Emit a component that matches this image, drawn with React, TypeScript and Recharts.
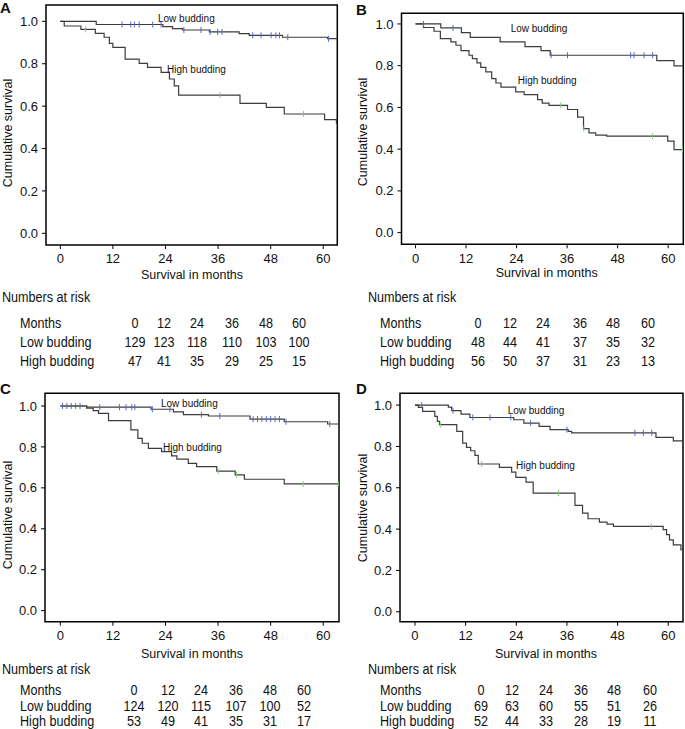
import React from "react";
import {
  ComposedChart,
  Line,
  Scatter,
  XAxis,
  YAxis,
  ReferenceArea,
} from "recharts";

// Kaplan-Meier steps: [month, cumulative survival]
const aLow: [number, number][] = [
  [0, 1], [8.2, 0.985], [23.4, 0.975], [25.6, 0.966], [27.9, 0.959], [34, 0.95],
  [40.8, 0.942], [43.1, 0.934], [50.7, 0.925], [61, 0.918], [63.2, 0.918],
];
const aHigh: [number, number][] = [
  [0, 1], [0.9, 0.978], [4.7, 0.962], [8, 0.943], [10, 0.925], [11.2, 0.896],
  [12, 0.877], [14.8, 0.822], [18, 0.802], [19.9, 0.783], [23, 0.759],
  [24.9, 0.728], [26, 0.696], [27, 0.652], [41, 0.613], [47, 0.594],
  [51.1, 0.563], [60.3, 0.536], [63, 0.52], [63.2, 0.52],
];
const aLowCens = [14.1, 16.1, 16.9, 18, 21.1, 23, 28.2, 32.1, 34.2, 35.9, 36.9, 43.9, 45.8, 48.1, 49.2, 50, 51.9, 61.2];
const aHighCens = [5.8, 36.4, 55.5];

const bLow: [number, number][] = [
  [0, 1], [6, 0.981], [10.9, 0.958], [13, 0.936], [20.1, 0.914], [26, 0.891],
  [29.8, 0.872], [32, 0.85], [57.3, 0.824], [61.4, 0.799], [63.6, 0.799],
];
const bHigh: [number, number][] = [
  [0, 1], [1.9, 0.983], [4.4, 0.965], [5.9, 0.93], [8.4, 0.914], [9.6, 0.898],
  [10.8, 0.872], [12.7, 0.85], [13.5, 0.834], [14.6, 0.813], [15.5, 0.792],
  [16.7, 0.77], [18.1, 0.738], [19.1, 0.717], [20.3, 0.697], [23.8, 0.674],
  [25.8, 0.661], [29, 0.637], [30.1, 0.621], [31.7, 0.61], [36.1, 0.59],
  [38.5, 0.553], [39.9, 0.498], [41.2, 0.478], [42.8, 0.467], [45.4, 0.462],
  [59.9, 0.438], [61.4, 0.398], [63.6, 0.398],
];
const bLowCens = [1.9, 8.9, 32.2, 36.1, 51.1, 51.9, 54.3, 56.3];
const bHighCens = [34.5, 40, 56.3, 63.4];

const cLow: [number, number][] = [
  [0, 1], [6, 0.994], [20.7, 0.984], [25.8, 0.971], [28.1, 0.958], [33.8, 0.951],
  [43.3, 0.936], [51.1, 0.923], [61, 0.912], [63.6, 0.912],
];
const cHigh: [number, number][] = [
  [0, 1], [6, 0.989], [7.5, 0.977], [8.7, 0.964], [11, 0.928], [16.1, 0.883],
  [17.7, 0.842], [18.7, 0.818], [20.1, 0.793], [23.1, 0.777], [25.4, 0.756],
  [26.6, 0.74], [29.2, 0.72], [31.1, 0.704], [35.7, 0.682], [39.9, 0.663],
  [42, 0.642], [51.1, 0.619], [63.6, 0.619],
];
const cLowCens = [0.5, 1.5, 2.5, 3.5, 4.5, 9, 13.5, 15, 16.3, 17, 21, 25, 32.2, 36.4, 44, 45, 46, 47, 48, 49, 50, 51.5, 61.5];
const cHighCens = [36, 40.2, 55.4, 63.4];

const dLow: [number, number][] = [
  [0, 1], [7.9, 0.99], [8.7, 0.973], [10.9, 0.956], [13, 0.94], [23.4, 0.929],
  [25.8, 0.913], [29.4, 0.897], [32, 0.881], [36.3, 0.873], [37.1, 0.866],
  [57.1, 0.844], [61.2, 0.827], [63.5, 0.827],
];
const dHigh: [number, number][] = [
  [0, 1], [0.8, 0.989], [1.8, 0.97], [4.7, 0.945], [5.3, 0.921], [5.8, 0.905],
  [9.9, 0.873], [11.3, 0.816], [12.2, 0.795], [13.2, 0.779], [14.2, 0.757],
  [15, 0.715], [20, 0.699], [22.9, 0.676], [23.9, 0.65], [26.3, 0.627],
  [28, 0.574], [37.9, 0.515], [39.7, 0.477], [41, 0.45], [43.7, 0.434],
  [45.5, 0.424], [47, 0.413], [58.8, 0.397], [59.6, 0.373], [60.3, 0.348],
  [61.2, 0.324], [63, 0.3], [63.5, 0.3],
];
const dLowCens = [1.6, 9, 13.7, 17.8, 22.7, 27.4, 36, 52.1, 54.1, 56.1];
const dHighCens = [6, 15.8, 34, 56];

// numbers at risk
const months = [0, 12, 24, 36, 48, 60];
const aLowRisk = [129, 123, 118, 110, 103, 100];
const aHighRisk = [47, 41, 35, 29, 25, 15];
const bLowRisk = [48, 44, 41, 37, 35, 32];
const bHighRisk = [56, 50, 37, 31, 23, 13];
const cLowRisk = [124, 120, 115, 107, 100, 52];
const cHighRisk = [53, 49, 41, 35, 31, 17];
const dLowRisk = [69, 63, 60, 55, 51, 26];
const dHighRisk = [52, 44, 33, 28, 19, 11];

const yTicks = [0, 0.2, 0.4, 0.6, 0.8, 1.0];
const LINE = "#3c3c3c";
const FONT = "'Liberation Sans', Arial, Helvetica, sans-serif";
const YW = 40;
const XH = 36;

const levelAt = (steps: [number, number][], t: number) => {
  let s = steps[0][1];
  for (const [tt, ss] of steps) if (tt <= t) s = ss;
  return s;
};

const toPts = (steps: [number, number][]) => steps.map(([t, s]) => ({ t, s }));
const cens = (steps: [number, number][], times: number[]) =>
  times.map((t) => ({ t, s: levelAt(steps, t) }));

const tickMark = (color: string) => (props: any) => {
  const { cx, cy } = props;
  return <line x1={cx} x2={cx} y1={cy - 3} y2={cy + 3} stroke={color} strokeWidth={1} />;
};

const panels = [
  {
    letter: "A", left: 0, top: 0, w: 340, h: 285,
    plot: { l: 46, r: 337.3, t: 5, b: 245 }, xd: [-3.26, 63.2], yd: [-0.055, 1.077],
    low: aLow, high: aHigh, lowC: aLowCens, highC: aHighCens,
    letterPos: [0, 0], yTitle: [8, 133], xTitle: [192, 275],
    lowLab: [158, 19], highLab: [167, 70],
  },
  {
    letter: "B", left: 340, top: 0, w: 345, h: 285,
    plot: { l: 401.5, r: 683.3, t: 13.3, b: 244.3 }, xd: [-3.33, 63.6], yd: [-0.056, 1.051],
    low: bLow, high: bHigh, lowC: bLowCens, highC: bHighCens,
    letterPos: [356, 2], yTitle: [362.7, 132], xTitle: [546.7, 273],
    lowLab: [510.7, 29], highLab: [517.7, 81],
  },
  {
    letter: "C", left: 0, top: 375, w: 340, h: 285,
    plot: { l: 45, r: 339, t: 393.3, b: 621.7 }, xd: [-3.5, 63.6], yd: [-0.054, 1.062],
    low: cLow, high: cHigh, lowC: cLowCens, highC: cHighCens,
    letterPos: [0, 381], yTitle: [8.3, 515], xTitle: [192, 654],
    lowLab: [161, 404.3], highLab: [163, 448],
  },
  {
    letter: "D", left: 340, top: 375, w: 345, h: 285,
    plot: { l: 400, r: 683, t: 393.3, b: 621.7 }, xd: [-3.55, 63.5], yd: [-0.048, 1.057],
    low: dLow, high: dHigh, lowC: dLowCens, highC: dHighCens,
    letterPos: [356, 381], yTitle: [362.7, 508], xTitle: [546, 654],
    lowLab: [507.7, 411], highLab: [516, 465.7],
  },
];

const tables = [
  { x0: 2, lab: 20, cols: [135, 164, 197, 232, 266, 299], ys: [297, 323, 342, 361], low: aLowRisk, high: aHighRisk },
  { x0: 368, lab: 380, cols: [478, 510, 543, 580, 613, 648], ys: [297, 323, 342, 361], low: bLowRisk, high: bHighRisk },
  { x0: 2, lab: 20, cols: [134, 168, 201, 236, 270, 304], ys: [669, 690, 706, 721], low: cLowRisk, high: cHighRisk },
  { x0: 368, lab: 380, cols: [481, 512, 546, 581, 614, 650], ys: [669, 690, 706, 721], low: dLowRisk, high: dHighRisk },
];

const abs = (x: number, y: number, extra: React.CSSProperties = {}): React.CSSProperties => ({
  position: "absolute",
  left: x,
  top: y,
  whiteSpace: "nowrap",
  lineHeight: 1,
  ...extra,
});

const TAB_FONT = 14;
const SQUEEZE = 0.9;

function Panel({ p }: { p: (typeof panels)[number] }) {
  const margin = {
    top: p.plot.t - p.top,
    left: p.plot.l - p.left - YW,
    right: p.left + p.w - p.plot.r,
    bottom: p.top + p.h - p.plot.b - XH,
  };
  return (
    <div style={{ position: "absolute", left: p.left, top: p.top }}>
      <ComposedChart width={p.w} height={p.h} margin={margin}>
        <XAxis
          type="number"
          dataKey="t"
          domain={p.xd}
          allowDataOverflow
          ticks={months}
          height={XH}
          axisLine={false}
          tickLine={{ stroke: "#000" }}
          tickSize={4}
          tickMargin={5}
          tick={{ fill: "#111", fontSize: 13, fontFamily: FONT }}
        />
        <YAxis
          type="number"
          dataKey="s"
          domain={p.yd}
          allowDataOverflow
          ticks={yTicks}
          width={YW}
          axisLine={false}
          tickLine={{ stroke: "#000" }}
          tickSize={4}
          tickMargin={4}
          tickFormatter={(v: number) => v.toFixed(1)}
          tick={{ fill: "#111", fontSize: 13, fontFamily: FONT }}
        />
        <Line data={toPts(p.low)} dataKey="s" type="stepAfter" stroke={LINE} strokeWidth={1.2} dot={false} isAnimationActive={false} />
        <Line data={toPts(p.high)} dataKey="s" type="stepAfter" stroke={LINE} strokeWidth={1.2} dot={false} isAnimationActive={false} />
        <Scatter data={cens(p.low, p.lowC)} shape={tickMark("#5568c8")} isAnimationActive={false} />
        <Scatter data={cens(p.high, p.highC)} shape={tickMark("#7ccf7c")} isAnimationActive={false} />
        <ReferenceArea
          x1={p.xd[0]}
          x2={p.xd[1]}
          y1={p.yd[0]}
          y2={p.yd[1]}
          fill="none"
          fillOpacity={0}
          stroke="#000"
          strokeWidth={1.5}
          ifOverflow="visible"
        />
      </ComposedChart>
    </div>
  );
}

export default function App() {
  return (
    <div style={{ position: "absolute", left: 0, top: 0, width: 685, height: 729, background: "#fff", fontFamily: FONT, color: "#111" }}>
      {panels.map((p) => (
        <Panel key={p.letter} p={p} />
      ))}
      {panels.map((p) => (
        <React.Fragment key={"t" + p.letter}>
          <div style={abs(p.letterPos[0], p.letterPos[1], { fontSize: 15, fontWeight: "bold" })}>{p.letter}</div>
          <div style={abs(p.yTitle[0], p.yTitle[1], { fontSize: 12.5, transform: "translate(-50%, -50%) rotate(-90deg)" })}>
            Cumulative survival
          </div>
          <div style={abs(p.xTitle[0], p.xTitle[1], { fontSize: 12.5, transform: "translate(-50%, -50%)" })}>
            Survival in months
          </div>
          <div style={abs(p.lowLab[0], p.lowLab[1], { fontSize: 10, transform: "translateY(-50%)" })}>Low budding</div>
          <div style={abs(p.highLab[0], p.highLab[1], { fontSize: 10, transform: "translateY(-50%)" })}>High budding</div>
        </React.Fragment>
      ))}
      {tables.map((t, i) => (
        <div key={"tab" + i} style={{ fontSize: TAB_FONT }}>
          <div style={abs(t.x0, t.ys[0], { transform: `translateY(-50%) scaleX(${SQUEEZE})`, transformOrigin: "left center" })}>
            Numbers at risk
          </div>
          {[
            { name: "Months", vals: months, y: t.ys[1] },
            { name: "Low budding", vals: t.low, y: t.ys[2] },
            { name: "High budding", vals: t.high, y: t.ys[3] },
          ].map((row) => (
            <React.Fragment key={row.name}>
              <div style={abs(t.lab, row.y, { transform: `translateY(-50%) scaleX(${SQUEEZE})`, transformOrigin: "left center" })}>
                {row.name}
              </div>
              {row.vals.map((v, j) => (
                <div key={j} style={abs(t.cols[j], row.y, { transform: `translate(-50%, -50%) scaleX(${SQUEEZE})` })}>
                  {v}
                </div>
              ))}
            </React.Fragment>
          ))}
        </div>
      ))}
    </div>
  );
}
